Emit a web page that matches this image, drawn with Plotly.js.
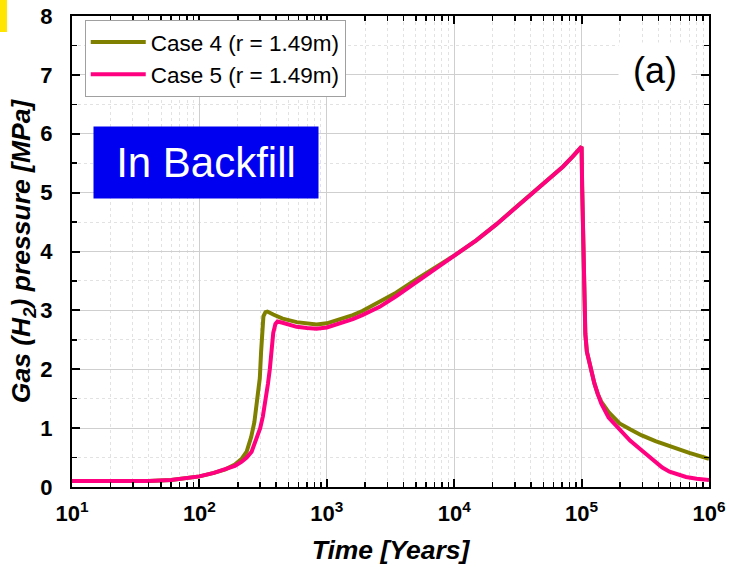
<!DOCTYPE html>
<html>
<head>
<meta charset="utf-8">
<script src="https://cdn.plot.ly/plotly-3.0.1.min.js"></script>
<style>html,body{margin:0;padding:0;background:#fff}#chart{width:730px;height:577px}</style>
</head>
<body>
<div id="chart"></div>
<script>
// Case 4 (olive)
const timeCase4 = [10, 20, 40, 60, 80, 100, 130, 160, 190, 215, 235, 255, 270, 285, 298, 305, 310, 318, 330, 342, 380, 450, 580, 700, 830, 1000, 1300, 1600, 1900, 2600, 3500, 5000, 7000, 10000, 14900, 21400, 30000, 39100, 50000, 71300, 85000, 100000, 101000, 102500, 104500, 107000, 110000, 116000, 126000, 134000, 142600, 163000, 198600, 240000, 294000, 380000, 490000, 700000, 1000000];
const pressCase4 = [0.10, 0.10, 0.10, 0.12, 0.15, 0.18, 0.24, 0.30, 0.38, 0.48, 0.60, 0.85, 1.10, 1.45, 1.85, 2.30, 2.70, 2.90, 2.97, 2.98, 2.93, 2.86, 2.80, 2.77, 2.76, 2.78, 2.85, 2.92, 2.99, 3.14, 3.30, 3.52, 3.72, 3.93, 4.19, 4.46, 4.74, 4.96, 5.15, 5.44, 5.61, 5.78, 5.10, 4.30, 3.20, 2.60, 2.30, 2.08, 1.76, 1.58, 1.45, 1.27, 1.08, 0.98, 0.88, 0.78, 0.69, 0.58, 0.48];
// Case 5 (pink)
const timeCase5 = [10, 20, 40, 60, 80, 100, 130, 160, 190, 215, 235, 257, 280, 300, 315, 330, 345, 357, 370, 380, 395, 410, 450, 580, 700, 830, 1000, 1300, 1600, 1900, 2600, 3500, 5000, 7000, 10000, 14900, 21400, 30000, 39100, 50000, 71300, 85000, 100000, 101000, 102500, 104500, 107000, 110000, 116000, 126000, 134000, 142600, 163000, 198600, 240000, 294000, 340000, 385000, 430000, 490000, 570000, 660000, 800000, 1000000];
const pressCase5 = [0.10, 0.10, 0.10, 0.12, 0.15, 0.18, 0.24, 0.30, 0.36, 0.43, 0.50, 0.60, 0.80, 1.00, 1.20, 1.45, 1.75, 2.00, 2.35, 2.62, 2.77, 2.81, 2.79, 2.72, 2.70, 2.69, 2.71, 2.78, 2.85, 2.92, 3.06, 3.24, 3.47, 3.69, 3.92, 4.19, 4.46, 4.74, 4.96, 5.15, 5.44, 5.61, 5.78, 5.10, 4.30, 3.20, 2.60, 2.30, 2.08, 1.76, 1.58, 1.42, 1.18, 0.97, 0.79, 0.63, 0.51, 0.40, 0.33, 0.26, 0.21, 0.17, 0.14, 0.12];

const seriesNames = ["Case 4 (r = 1.49m)", "Case 5 (r = 1.49m)"];
const xTickVals = [10, 100, 1000, 10000, 100000, 1000000];
const xTickText = ["10<sup>1</sup>", "10<sup>2</sup>", "10<sup>3</sup>", "10<sup>4</sup>", "10<sup>5</sup>", "10<sup>6</sup>"];
const yTickVals = [0, 1, 2, 3, 4, 5, 6, 7, 8];

const xMinorVals = [];
for (let d = 1; d < 6; d++) for (let m = 2; m <= 9; m++) xMinorVals.push(m * Math.pow(10, d));

const FONT = "Arial, 'Liberation Sans', sans-serif";

const traces = [
  {x: timeCase4, y: pressCase4, name: seriesNames[0], type: "scatter", mode: "lines",
   line: {color: "#808000", width: 4}},
  {x: timeCase5, y: pressCase5, name: seriesNames[1], type: "scatter", mode: "lines",
   line: {color: "#ff0080", width: 4}}
];

const layout = {
  width: 730, height: 577,
  margin: {l: 72, r: 21, t: 16, b: 90, pad: 0},
  paper_bgcolor: "#fff", plot_bgcolor: "#fff",
  font: {family: FONT, color: "#000"},
  showlegend: true,
  xaxis: {
    type: "log", range: [1, 6],
    tickmode: "array", tickvals: xTickVals, ticktext: xTickText,
    tickfont: {size: 22, family: FONT, weight: "bold"},
    ticks: "inside", ticklen: 8, tickwidth: 2, tickcolor: "#000",
    showline: true, linewidth: 2, linecolor: "#000", mirror: "allticks",
    showgrid: true, gridcolor: "#cfcfcf", gridwidth: 1,
    zeroline: false,
    ticklabelstandoff: 6,
    minor: {tickmode: "array", tickvals: xMinorVals, ticks: "inside", ticklen: 5, tickwidth: 1.5, tickcolor: "#000",
            showgrid: true, gridcolor: "#e2e2e2", griddash: "dot", gridwidth: 1},
    title: {text: "<b><i>Time [Years]</i></b>", font: {size: 26.5, family: FONT}, standoff: 15}
  },
  yaxis: {
    range: [0, 8], tickmode: "array", tickvals: yTickVals,
    tickfont: {size: 22, family: FONT, weight: "bold"},
    ticks: "inside", ticklen: 8, tickwidth: 2, tickcolor: "#000",
    showline: true, linewidth: 2, linecolor: "#000", mirror: "allticks",
    showgrid: true, gridcolor: "#cfcfcf", gridwidth: 1,
    zeroline: false,
    ticklabelstandoff: 13,
    minor: {dtick: 0.5, ticks: "inside", ticklen: 5, tickwidth: 1.5, tickcolor: "#000",
            showgrid: true, gridcolor: "#e2e2e2", griddash: "dot", gridwidth: 1},
    title: {text: "<b><i>Gas (H<sub>2</sub>) pressure [MPa]</i></b>", font: {size: 26.5, family: FONT}, standoff: 2}
  },
  legend: {
    x: 0.02, y: 0.992, xanchor: "left", yanchor: "top",
    bgcolor: "#fff", bordercolor: "#a0a0a0", borderwidth: 1,
    font: {size: 22.5, family: FONT, color: "#000"},
    itemwidth: 55, tracegroupgap: 0
  },
  annotations: [
    {xref: "paper", yref: "paper", x: 0.2102, y: 0.689, xanchor: "center", yanchor: "middle",
     text: "In Backfill", showarrow: false, font: {size: 42, family: FONT, color: "#fff"},
     bgcolor: "#0000f0", width: 224, height: 71, borderpad: 0},
    {xref: "paper", yref: "paper", x: 0.9145, y: 0.885, xanchor: "center", yanchor: "middle",
     text: "(a)", showarrow: false, font: {size: 36, family: FONT, color: "#000"},
     bgcolor: "#fff", width: 72, height: 54, borderpad: 0}
  ],
  shapes: [
    {type: "rect", xref: "paper", yref: "paper", x0: -0.1130, x1: -0.1020, y0: 0.966, y1: 1.034,
     fillcolor: "#ffe500", line: {width: 0}, layer: "above"}
  ]
};

Plotly.newPlot("chart", traces, layout, {staticPlot: true, displayModeBar: false});
</script>
</body>
</html>
